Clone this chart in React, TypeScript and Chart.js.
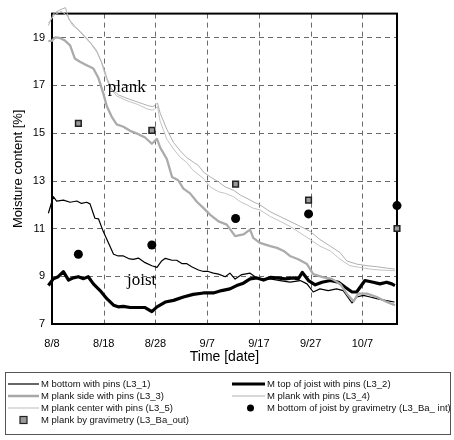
import React, { useEffect, useRef } from "react";
import { Chart, registerables } from "chart.js";

Chart.register(...registerables);

// x axis: days since 8/8
const xTickDays = [0, 10, 20, 30, 40, 50, 60];
const xTickLabels = ["8/8", "8/18", "8/28", "9/7", "9/17", "9/27", "10/7"];
const yTicks = [7, 9, 11, 13, 15, 17, 19];

// M bottom with pins (L3_1)
const bottomPinsDays = [-0.7, 0.25, 0.9, 2.2, 3.5, 4.8, 5.7, 6.7, 7.35, 8.3, 9, 9.9, 10.9, 11.9, 12.8, 13.8, 14.8, 15.7, 16.7, 18, 19.3, 20.3, 21.2, 21.9, 23.2, 24.1, 25.1, 26, 27, 28.3, 29.3, 30.2, 31.2, 32.2, 33.5, 34.4, 35.4, 36.7, 38.3, 39.6, 40.9, 42.2, 44.1, 46, 48, 49.3, 50.5, 51.8, 53.4, 55, 56.3, 58, 58.9, 60.2, 61.5, 62.8, 64.4, 66.2];
const bottomPins = [11.64, 12.33, 12.15, 12.19, 12.1, 12.15, 12.05, 12.1, 12.03, 11.43, 11.4, 10.88, 10.4, 9.92, 9.85, 9.85, 9.74, 9.71, 9.76, 9.57, 9.44, 9.37, 9.64, 9.75, 9.67, 9.67, 9.53, 9.53, 9.4, 9.26, 9.2, 9.2, 9.13, 9.09, 8.98, 9.13, 8.88, 9.07, 9.13, 8.93, 8.88, 8.89, 8.82, 8.75, 8.82, 8.68, 8.34, 8.47, 8.4, 8.47, 8.4, 7.88, 8.13, 8.2, 8.13, 8.06, 7.99, 7.92];

// M top of joist with pins (L3_2)
const topJoistDays = [-0.7, 0.25, 1.2, 2.2, 3.2, 4.1, 5.1, 6.1, 7, 8, 9.3, 10.6, 11.9, 12.8, 13.8, 15.1, 16.7, 18, 19.3, 20.3, 21.9, 23.5, 25.4, 27.3, 29.3, 31.2, 32.8, 34.4, 35.7, 37, 38.3, 39.6, 40.9, 42.2, 43.5, 45.1, 46.7, 47.6, 48.4, 49.6, 50.9, 52.2, 53.8, 55.4, 56.7, 58, 58.9, 60.5, 62.1, 63.4, 64.7, 65.7, 66.3];
const topJoist = [8.61, 8.89, 8.98, 9.19, 8.84, 8.93, 8.98, 8.9, 8.98, 8.68, 8.4, 8.06, 7.79, 7.72, 7.74, 7.69, 7.69, 7.69, 7.52, 7.72, 7.92, 7.99, 8.13, 8.24, 8.3, 8.3, 8.4, 8.47, 8.61, 8.71, 8.89, 8.93, 8.84, 8.95, 8.93, 8.89, 8.93, 8.89, 9.16, 8.82, 8.64, 8.75, 8.82, 8.75, 8.54, 8.34, 8.34, 8.82, 8.75, 8.68, 8.75, 8.68, 8.61];

// M plank side with pins (L3_3)
const plankSideDays = [-0.7, 0, 0.6, 1.5, 2.5, 3.5, 4.4, 5.4, 6.7, 8, 9, 9.9, 10.6, 11.5, 12.5, 13.8, 15.1, 16.7, 18, 19.3, 20.3, 20.9, 22.2, 23.2, 24.4, 25.4, 26.7, 28, 29.3, 30.6, 32.2, 33.8, 35.4, 37, 38.3, 38.9, 40.2, 42.2, 43.5, 44.8, 46, 47.6, 49.3, 50.5, 52.5, 54.1, 55.7, 57, 58.3, 59.2, 60.9, 62.8, 64.7, 66.3];
const plankSide = [18.85, 18.87, 19.0, 18.98, 18.87, 18.67, 18.12, 17.98, 17.84, 17.7, 17.29, 16.67, 16.12, 15.7, 15.36, 15.26, 15.09, 14.95, 14.81, 14.55, 14.75, 14.4, 13.91, 13.16, 13.02, 12.67, 12.47, 12.12, 11.85, 11.57, 11.3, 11.16, 10.68, 10.75, 10.95, 10.61, 10.4, 10.26, 10.19, 10.06, 9.85, 9.71, 9.51, 9.09, 8.95, 8.89, 8.68, 8.27, 7.95, 8.27, 8.27, 8.13, 7.92, 7.79];

// M plank with pins (L3_4)
const plankPinsDays = [-0.7, 0.3, 1.5, 2.6, 3.3, 4.5, 6, 7.5, 8.8, 9.9, 10.7, 11.5, 12.8, 14.5, 16.5, 18.5, 19.5, 20.4, 20.9, 22.2, 23.5, 24.8, 26, 27.3, 28.3, 29.3, 30.6, 32.2, 33.5, 35.1, 36.4, 37.7, 38.9, 40.2, 42.2, 44.1, 46, 48, 49.9, 51.8, 53.8, 55.7, 57, 58.9, 60.9, 62.8, 64.7, 66.3];
const plankPins = [19.5, 20.0, 20.15, 20.25, 19.75, 19.45, 19.1, 18.75, 18.35, 17.8, 17.25, 16.85, 16.6, 16.45, 16.3, 16.15, 16.1, 16.25, 15.84, 15.15, 14.6, 14.25, 13.98, 13.78, 13.64, 13.36, 13.16, 12.95, 12.74, 12.6, 12.4, 12.26, 12.12, 11.99, 11.7, 11.5, 11.3, 11.09, 10.88, 10.54, 10.26, 9.99, 9.64, 9.51, 9.44, 9.4, 9.34, 9.3];

// M plank center with pins (L3_5)
const plankCenterDays = [-0.7, 0.5, 1.8, 3.0, 4.0, 5.5, 7, 8.5, 9.5, 10.3, 11.2, 12.5, 14.5, 16.5, 18.5, 19.5, 20.4, 20.9, 22.2, 23.5, 24.8, 26, 27.3, 29.3, 30.6, 32.2, 33.5, 35.1, 36.4, 37.7, 38.9, 40.2, 42.2, 44.1, 46, 48, 49.9, 51.8, 53.8, 55.7, 57.6, 59.5, 61.5, 63.4, 66.3];
const plankCenter = [19.6, 19.95, 20.1, 19.9, 19.5, 19.25, 18.9, 18.5, 18.0, 17.4, 16.9, 16.55, 16.35, 16.2, 16.0, 15.95, 16.1, 15.5, 14.74, 14.33, 13.98, 13.78, 13.43, 13.09, 12.74, 12.54, 12.47, 12.33, 12.12, 11.99, 11.85, 11.78, 11.5, 11.3, 11.09, 10.81, 10.54, 10.26, 10.06, 9.71, 9.44, 9.37, 9.3, 9.26, 9.23];

// gravimetry
const gravDays = [5.1, 19.3, 35.5, 49.6, 66.7];
const plankGrav = [15.4, 15.11, 12.86, 12.19, 11.0];
const joistGrav = [9.92, 10.31, 11.42, 11.61, 11.96];

const SANS = "'Liberation Sans', Arial, Helvetica, sans-serif";
const SERIF = "'Liberation Serif', 'Times New Roman', serif";

const zip = (xs: number[], ys: number[]) => xs.map((x, i) => ({ x, y: ys[i] }));

const legendItems = [
  { label: "M bottom with pins (L3_1)", kind: "line", color: "#000", width: 1.2, col: 0, row: 0 },
  { label: "M plank side with pins (L3_3)", kind: "line", color: "#a8a8a8", width: 2.5, col: 0, row: 1 },
  { label: "M plank center with pins (L3_5)", kind: "line", color: "#bdbdbd", width: 1, col: 0, row: 2 },
  { label: "M plank by gravimetry (L3_Ba_out)", kind: "rect", color: "#999", width: 1, col: 0, row: 3 },
  { label: "M top of joist with pins (L3_2)", kind: "line", color: "#000", width: 3.2, col: 1, row: 0 },
  { label: "M plank with pins (L3_4)", kind: "line", color: "#b0b0b0", width: 1, col: 1, row: 1 },
  { label: "M bottom of joist by gravimetry (L3_Ba_ int)", kind: "dot", color: "#000", width: 1, col: 1, row: 2 },
];

const framePlugin = {
  id: "frameAndNotes",
  beforeDatasetsDraw(chart: any) {
    const { ctx, chartArea: a } = chart;
    const xs = chart.scales.x;
    const ys = chart.scales.y;
    ctx.save();
    // dashed grid
    ctx.strokeStyle = "#6a6a6a";
    ctx.lineWidth = 1;
    ctx.setLineDash([5, 4]);
    xTickDays.forEach((d) => {
      const px = Math.round(xs.getPixelForValue(d)) + 0.5;
      ctx.beginPath();
      ctx.moveTo(px, a.top);
      ctx.lineTo(px, a.bottom);
      ctx.stroke();
    });
    yTicks.forEach((v) => {
      const py = Math.round(ys.getPixelForValue(v)) + 0.5;
      ctx.beginPath();
      ctx.moveTo(a.left, py);
      ctx.lineTo(a.right, py);
      ctx.stroke();
    });
    ctx.setLineDash([]);
    ctx.strokeStyle = "#000";
    ctx.lineWidth = 2;
    ctx.strokeRect(a.left, a.top, a.right - a.left, a.bottom - a.top);
    ctx.restore();
  },
  afterDatasetsDraw(chart: any) {
    const { ctx } = chart;
    const xs = chart.scales.x;
    const ys = chart.scales.y;
    ctx.save();
    ctx.fillStyle = "#000";
    ctx.font = `17px ${SERIF}`;
    ctx.textAlign = "left";
    ctx.textBaseline = "alphabetic";
    ctx.fillText("plank", xs.getPixelForValue(10.8), ys.getPixelForValue(16.7));
    ctx.fillText("joist", xs.getPixelForValue(14.5), ys.getPixelForValue(8.62));
    ctx.restore();
  },
  afterDraw(chart: any) {
    const { ctx } = chart;
    ctx.save();
    // legend box
    ctx.strokeStyle = "#555";
    ctx.lineWidth = 1;
    ctx.strokeRect(5.5, 372.5, 445, 62);
    const rowY = [384, 396, 408, 420];
    const colX = [[8, 39, 41], [232, 265, 267]];
    ctx.font = `9.5px ${SANS}`;
    ctx.textBaseline = "middle";
    ctx.textAlign = "left";
    legendItems.forEach((it) => {
      const [x0, x1, tx] = colX[it.col];
      const y = rowY[it.row];
      if (it.kind === "line") {
        ctx.strokeStyle = it.color;
        ctx.lineWidth = it.width;
        ctx.beginPath();
        ctx.moveTo(x0, y);
        ctx.lineTo(x1, y);
        ctx.stroke();
      } else if (it.kind === "rect") {
        const cx = (x0 + x1) / 2;
        ctx.fillStyle = "#9a9a9a";
        ctx.fillRect(cx - 3.5, y - 3.5, 7, 7);
        ctx.strokeStyle = "#222";
        ctx.lineWidth = 1.2;
        ctx.strokeRect(cx - 3.5, y - 3.5, 7, 7);
      } else {
        const cx = (x0 + x1) / 2 + 2;
        ctx.fillStyle = "#000";
        ctx.beginPath();
        ctx.arc(cx, y, 3.5, 0, Math.PI * 2);
        ctx.fill();
      }
      ctx.fillStyle = "#111";
      ctx.fillText(it.label, tx, y + 0.5);
    });
    ctx.restore();
  },
};

export default function App() {
  const ref = useRef<HTMLCanvasElement>(null);
  useEffect(() => {
    if (!ref.current) return;
    const lineDs = (label: string, xs: number[], ys: number[], color: string, width: number) => ({
      type: "line" as const,
      label,
      data: zip(xs, ys),
      borderColor: color,
      backgroundColor: color,
      borderWidth: width,
      pointRadius: 0,
      tension: 0,
      clip: false as any,
      borderJoinStyle: "round" as const,
    });
    const chart = new Chart(ref.current, {
      type: "line",
      data: {
        datasets: [
          lineDs("M plank with pins (L3_4)", plankPinsDays, plankPins, "#b0b0b0", 1),
          lineDs("M plank center with pins (L3_5)", plankCenterDays, plankCenter, "#c4c4c4", 1),
          lineDs("M plank side with pins (L3_3)", plankSideDays, plankSide, "#ababab", 2.3),
          lineDs("M bottom with pins (L3_1)", bottomPinsDays, bottomPins, "#000", 1.2),
          lineDs("M top of joist with pins (L3_2)", topJoistDays, topJoist, "#000", 3.2),
          {
            type: "line" as const,
            label: "M plank by gravimetry (L3_Ba_out)",
            data: zip(gravDays, plankGrav),
            showLine: false,
            pointStyle: "rect",
            pointRadius: 4,
            pointBackgroundColor: "#9a9a9a",
            pointBorderColor: "#222",
            pointBorderWidth: 1.5,
            clip: false as any,
          },
          {
            type: "line" as const,
            label: "M bottom of joist by gravimetry (L3_Ba_ int)",
            data: zip(gravDays, joistGrav),
            showLine: false,
            pointStyle: "circle",
            pointRadius: 4.5,
            pointBackgroundColor: "#000",
            pointBorderColor: "#000",
            pointBorderWidth: 0,
            clip: false as any,
          },
        ],
      },
      options: {
        responsive: false,
        animation: false,
        layout: { padding: { left: 0, right: 57, top: 12, bottom: 68 } },
        plugins: { legend: { display: false }, tooltip: { enabled: false } },
        scales: {
          x: {
            type: "linear",
            min: 0,
            max: 66.7,
            afterBuildTicks: (s: any) => {
              s.ticks = xTickDays.map((v) => ({ value: v }));
            },
            afterFit: (s: any) => {
              s.height = 48;
            },
            grid: { display: false, drawTicks: false },
            border: { display: false },
            ticks: {
              padding: 13,
              maxRotation: 0,
              autoSkip: false,
              color: "#000",
              font: { family: SANS, size: 11 },
              callback: (v: any) => {
                const i = xTickDays.indexOf(Number(v));
                return i >= 0 ? xTickLabels[i] : "";
              },
            },
            title: {
              display: true,
              text: "Time [date]",
              color: "#000",
              font: { family: SANS, size: 14 },
              padding: { top: 0, bottom: 6 },
            },
          },
          y: {
            type: "linear",
            min: 7,
            max: 20,
            afterBuildTicks: (s: any) => {
              s.ticks = yTicks.map((v) => ({ value: v }));
            },
            afterFit: (s: any) => {
              s.width = 52;
            },
            grid: { display: false, drawTicks: false },
            border: { display: false },
            ticks: {
              padding: 7,
              color: "#000",
              font: { family: SANS, size: 11 },
              callback: (v: any) => String(v),
            },
            title: {
              display: true,
              text: "Moisture content [%]",
              color: "#000",
              font: { family: SANS, size: 13 },
              padding: { top: 11, bottom: 0 },
            },
          },
        },
      },
      plugins: [framePlugin],
    });
    return () => chart.destroy();
  }, []);
  return (
    <div style={{ position: "fixed", left: 0, top: 0, width: 454, height: 440, background: "#fff" }}>
      <canvas ref={ref} width={454} height={440} style={{ display: "block", width: 454, height: 440 }} />
    </div>
  );
}
